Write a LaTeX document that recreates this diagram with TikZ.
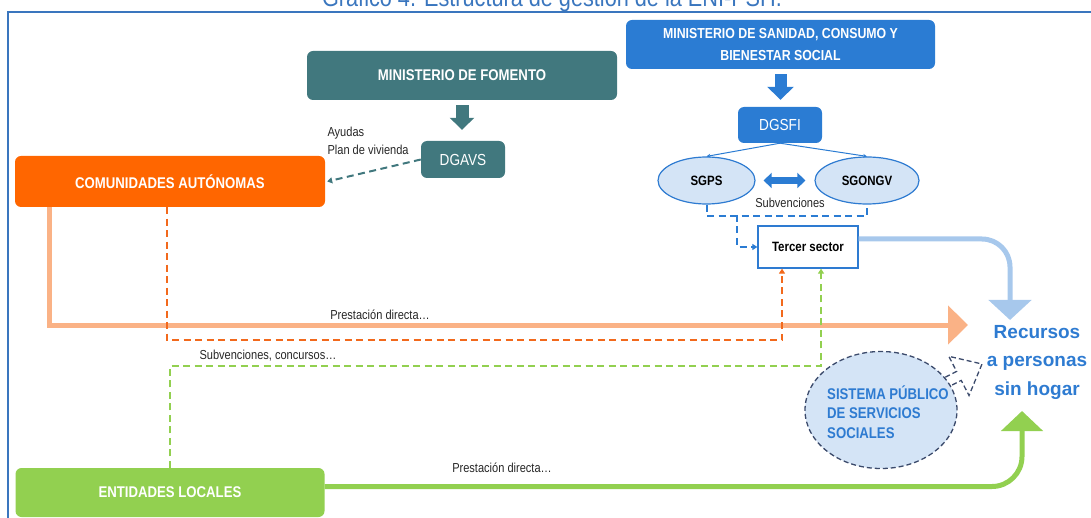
\documentclass[tikz,border=0pt]{standalone}
\usepackage{fontspec}
\setmainfont{Liberation Sans}[FakeStretch=0.85]
\newfontfamily\anchafont{Liberation Sans}
\usetikzlibrary{shapes.geometric,arrows.meta,positioning}
\definecolor{fomento}{HTML}{41787E}
\definecolor{sanidad}{HTML}{2B7CD3}
\definecolor{ccaa}{HTML}{FF6600}
\definecolor{eell}{HTML}{92D050}
\definecolor{peach}{HTML}{FAB286}
\definecolor{skyline}{HTML}{A7C8EC}
\definecolor{lfill}{HTML}{D4E4F6}
\definecolor{sssnavy}{HTML}{3B4A6B}
\definecolor{dblue}{HTML}{2E7BD1}
\definecolor{framec}{HTML}{3A76BE}
\definecolor{dashorange}{HTML}{F2691C}
\tikzset{
  minbox/.style={rounded corners=6pt, text=white, align=center, inner sep=0pt},
  ovalnode/.style={ellipse, draw=dblue, fill=lfill, line width=1.2pt, inner sep=0pt, font=\bfseries\fontsize{13.5}{16}\selectfont},
  dashline/.style={dash pattern=on 7pt off 4.5pt, line width=2pt},
  smalltip/.style={-{Triangle[length=5pt,width=6pt]}},
  note/.style={font=\fontsize{13}{18}\selectfont, text=black!85},
}
\begin{document}
\begin{tikzpicture}[x=1pt,y=-1pt]
  \useasboundingbox (0,0) rectangle (1091,518);
  \node [anchor=base, text=framec, font=\fontsize{25.5}{30}\selectfont] (titulo) at (552,7) {Gráfico 4. Estructura de gestión de la ENI-PSH.};
  \draw [framec, line width=1.5pt] (8,518) -- (8,12) -- (1091,12);
  \node [minbox, fill=fomento, minimum width=310, minimum height=49, font=\bfseries\fontsize{15.5}{18}\selectfont] (fomento) at (462,75.5) {MINISTERIO DE FOMENTO};
  \node [minbox, fill=sanidad, minimum width=309, minimum height=49, font=\bfseries\fontsize{14.5}{22}\selectfont] (sanidad) at (780.5,44.5) {MINISTERIO DE SANIDAD, CONSUMO Y\\BIENESTAR SOCIAL};
  \node [minbox, fill=fomento, minimum width=84, minimum height=37, font=\fontsize{16}{19}\selectfont] (dgavs) at (463,159.5) {DGAVS};
  \node [minbox, fill=sanidad, minimum width=84, minimum height=36, font=\fontsize{16}{19}\selectfont] (dgsfi) at (780,125) {DGSFI};
  \node [ovalnode, minimum width=97, minimum height=47] (sgps) at (706.5,180.5) {SGPS};
  \node [ovalnode, minimum width=104, minimum height=47] (sgongv) at (867,180.5) {SGONGV};
  \node [draw=dblue, fill=white, line width=1.3pt, minimum width=100, minimum height=42, font=\bfseries\fontsize{13.5}{16}\selectfont] (tercer) at (808,247) {Tercer sector};
  \node [minbox, fill=ccaa, minimum width=310, minimum height=51, font=\bfseries\fontsize{15.5}{18}\selectfont] (ccaa) at (170,181.5) {COMUNIDADES AUTÓNOMAS};
  \node [minbox, fill=eell, minimum width=309, minimum height=49, font=\bfseries\fontsize{15.5}{18}\selectfont] (eell) at (170,492.5) {ENTIDADES LOCALES};
  \node [ellipse, draw=sssnavy, dash pattern=on 5pt off 3pt, line width=1.3pt, fill=lfill, inner sep=0pt, minimum width=152, minimum height=117] (spss) at (881,410) {};
  \node [anchor=west, align=left, inner sep=0pt, text=dblue, font=\bfseries\fontsize{15.5}{19.5}\selectfont] (spsstxt) at (827,412) {SISTEMA PÚBLICO\\DE SERVICIOS\\SOCIALES};
  \node [align=center, text=dblue, font=\anchafont\bfseries\fontsize{19}{28.5}\selectfont] (recursos) at (1037,362) {Recursos\\a personas\\sin hogar};
  \node [note, align=left, anchor=west] (ayudas) at (324,141) {Ayudas\\Plan de vivienda};
  \node [note] (pd1) at (380,315) {Prestación directa…};
  \node [note] (sc) at (268,356) {Subvenciones, concursos…};
  \node [note] (pd2) at (502,468) {Prestación directa…};
  \node [note] (subv) at (790,203) {Subvenciones};
  \draw [fomento, line width=13pt, -{Triangle[length=12pt,width=24pt]}, shorten <=5pt, shorten >=11pt] (fomento.south) -- (fomento.south |- dgavs.north);
  \draw [sanidad, line width=12pt, -{Triangle[length=13pt,width=26pt]}, shorten <=5pt, shorten >=7pt] (sanidad.south) -- (sanidad.south |- dgsfi.north);
  \draw [sanidad, line width=1pt, -{Stealth[length=4pt,width=4pt]}] (dgsfi.south) -- (sgps.north);
  \draw [sanidad, line width=1pt, -{Stealth[length=4pt,width=4pt]}] (dgsfi.south) -- (sgongv.north);
  \draw [sanidad, line width=7pt, {Triangle[length=8pt,width=15pt]}-{Triangle[length=8pt,width=15pt]}, shorten <=8pt, shorten >=9pt] (sgps) -- (sgongv);
  \draw [sanidad, dashline] (sgps.south) -- ++(0,11) -| (sgongv.south);
  \coordinate (ramal) at (737,215);
  \draw [sanidad, dashline, smalltip] (ramal) |- (tercer.west);
  \coordinate (rtop) at (1010,320);
  \draw [skyline, line width=5pt, rounded corners=28pt, -{Triangle[length=20pt,width=42pt]}] ([yshift=8pt]tercer.east) -| (rtop);
  \coordinate (otip) at (968,325);
  \draw [peach, line width=5pt, -{Triangle[length=20pt,width=38pt]}] ([xshift=35pt]ccaa.south west) |- (otip);
  \coordinate (o2) at (782,340);
  \draw [dashorange, dashline, smalltip] ([xshift=152pt]ccaa.south west) |- (o2) -- (o2 |- tercer.south);
  \coordinate (g2) at (821,366);
  \draw [eell, dashline, smalltip] (eell.north) |- (g2) -- (g2 |- tercer.south);
  \coordinate (rbot) at (1022,411);
  \draw [eell, line width=5pt, rounded corners=30pt, -{Triangle[length=20pt,width=41pt]}] ([yshift=6pt]eell.east) -| (rbot);
  \draw [fomento, dashline, smalltip] (dgavs.west) -- ([xshift=2pt]ccaa.east);
  \draw [sssnavy, dash pattern=on 5pt off 3pt, line width=1.3pt] (945.3,377.2) -- (956.6,371.4) -- (948.8,356.3) -- (982,364) -- (969,395.5) -- (961.2,380.4) -- (949.9,386.1);
\end{tikzpicture}
\end{document}
